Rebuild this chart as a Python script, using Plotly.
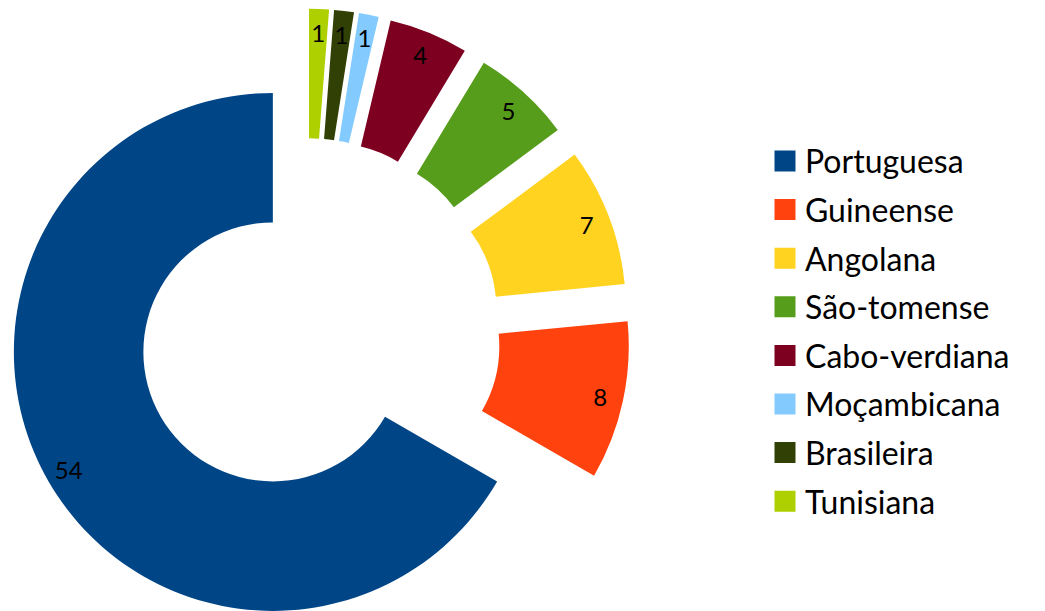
import math
import plotly.graph_objects as go

# ---- data ----
labels = ["Portuguesa", "Guineense", "Angolana", "São-tomense",
          "Cabo-verdiana", "Moçambicana", "Brasileira", "Tunisiana"]
values = [54, 8, 7, 5, 4, 1, 1, 1]
colors = ["#004586", "#ff420e", "#ffd320", "#579d1c",
          "#7e0021", "#83caff", "#314004", "#aecf00"]
# explosion of each slice, as a fraction of the radius (style)
explode = [0.15, 0.25, 0.25, 0.25, 0.25, 0.25, 0.25, 0.25]

# ---- style / geometry ----
W, H = 1045, 611
R = 259.0              # outer radius in px
CX, CY = 306.5, 332.5  # un-exploded centre in px
HOLE = 0.5
LABEL_R = 0.91         # label distance as fraction of radius
TEXT_HOLE = 0.82
FONT = "Lato"
TRANSPARENT = "rgba(0,0,0,0)"

total = float(sum(values))
# first slice starts at 12 o'clock and runs counter-clockwise
ROTATION = 360.0 * (1 - values[0] / total)

fig = go.Figure()


def box(cx, cy, r):
    x0 = max(0.0, (cx - r) / W)
    x1 = min(1.0, (cx + r) / W)
    y0 = max(0.0, 1 - (cy + r) / H)
    y1 = min(1.0, 1 - (cy - r) / H)
    return dict(x=[x0, x1], y=[y0, y1])


# legend entries (square swatches, no drawn points)
for lab, col in zip(labels, colors):
    fig.add_trace(go.Scatter(
        x=[None], y=[None], mode="markers", name=lab,
        marker=dict(symbol="square", size=16, color=col,
                    line=dict(color=col, width=5)),
        hoverinfo="skip", showlegend=True, legendgroup=lab,
    ))

cum = 0.0
for i in range(len(values)):
    frac_start = cum / total
    frac = values[i] / total
    cum += values[i]
    mid = math.radians(90 + 360 * (frac_start + frac / 2))
    cx = CX + explode[i] * R * math.cos(mid)
    cy = CY - explode[i] * R * math.sin(mid)

    slice_colors = [TRANSPARENT] * len(values)
    slice_colors[i] = colors[i]
    fig.add_trace(go.Pie(
        labels=labels, values=values, hole=HOLE, sort=False,
        direction="counterclockwise", rotation=ROTATION,
        marker=dict(colors=slice_colors, line=dict(width=0)),
        textinfo="none", hoverinfo="skip", showlegend=False,
        domain=box(cx, cy, R),
    ))

    # label trace (transparent ring, only carries the value text)
    half = math.pi * frac
    ring_half = (1 - TEXT_HOLE) / 2
    r_ins = min(1 / (1 + 1 / math.sin(half)), ring_half)
    r_t = LABEL_R * R / (1 - r_ins)
    texts = [""] * len(values)
    texts[i] = str(values[i])
    fig.add_trace(go.Pie(
        labels=labels, values=values, hole=TEXT_HOLE, sort=False,
        direction="counterclockwise", rotation=ROTATION,
        marker=dict(colors=[TRANSPARENT] * len(values), line=dict(width=0)),
        text=texts, textinfo="text", textposition="inside",
        insidetextorientation="auto" if r_ins >= ring_half else "horizontal",
        insidetextfont=dict(family=FONT, size=24, color="black"),
        hoverinfo="skip", showlegend=False,
        domain=box(cx, cy, r_t),
    ))

fig.update_layout(
    width=W, height=H,
    margin=dict(l=0, r=0, t=0, b=0),
    paper_bgcolor="white", plot_bgcolor="white",
    xaxis=dict(visible=False), yaxis=dict(visible=False),
    showlegend=True,
    uniformtext=dict(minsize=24, mode="show"),
    legend=dict(
        x=765 / W, xanchor="left", y=1 - 133.7 / H, yanchor="top",
        font=dict(family=FONT, size=32, color="black"),
        traceorder="grouped", tracegroupgap=4,
        bgcolor="rgba(0,0,0,0)", borderwidth=0,
    ),
)

fig.write_html("out.html")
